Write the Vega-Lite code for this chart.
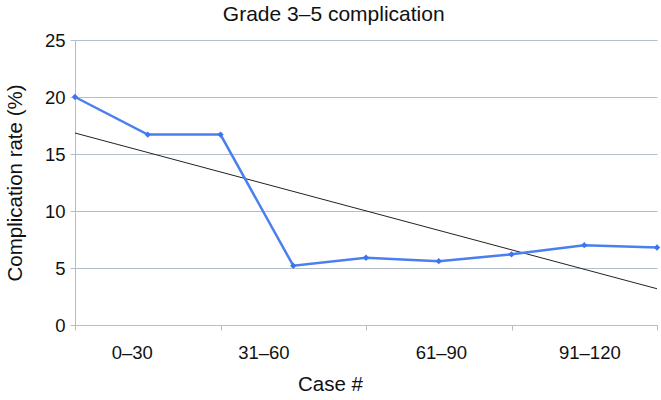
{
  "$schema": "https://vega.github.io/schema/vega-lite/v6.json",
  "width": 582,
  "height": 285,
  "autosize": {"type": "none"},
  "padding": {"left": 75, "top": 40, "right": 4, "bottom": 75},
  "background": "white",
  "title": {"text": "Grade 3–5 complication", "font": "Liberation Sans", "fontSize": 21, "fontWeight": "normal", "color": "#111", "offset": 9, "anchor": "middle", "frame": "bounds", "baseline": "bottom", "dy": 24},
  "config": {"view": {"stroke": null}, "font": "Liberation Sans", "title": {"fontSize": 21}},
  "datasets": {
    "rates": [
      {"idx": 0, "rate": 20.0},
      {"idx": 1, "rate": 16.7},
      {"idx": 2, "rate": 16.7},
      {"idx": 3, "rate": 5.2},
      {"idx": 4, "rate": 5.9},
      {"idx": 5, "rate": 5.6},
      {"idx": 6, "rate": 6.2},
      {"idx": 7, "rate": 7.0},
      {"idx": 8, "rate": 6.8}
    ],
    "trend": [
      {"idx": 0, "rate": 16.84},
      {"idx": 8, "rate": 3.18}
    ]
  },
  "layer": [
    {
      "data": {"name": "trend"},
      "mark": {"type": "line", "color": "#222", "strokeWidth": 1},
      "encoding": {
        "x": {"field": "idx", "type": "quantitative", "scale": {"domain": [0, 8], "nice": false, "zero": false},
          "axis": {
            "values": [0, 0.78, 2, 2.59, 4, 5.03, 6, 7.07, 8],
            "labelExpr": "datum.value == 0.78 ? '0–30' : datum.value == 2.59 ? '31–60' : datum.value == 5.03 ? '61–90' : datum.value == 7.07 ? '91–120' : ''",
            "tickColor": {"condition": {"test": "datum.value % 2 == 0", "value": "#b4bec8"}, "value": "transparent"},
            "tickSize": 5,
            "domainColor": "#b4bec8",
            "grid": false,
            "labelFont": "Liberation Sans", "labelFontSize": 18.5, "labelColor": "#111", "labelPadding": 13, "labelFlush": false, "labelOverlap": false,
            "title": "Case #", "titleFont": "Liberation Sans", "titleFontSize": 20.5, "titleFontWeight": "normal", "titleColor": "#111", "titlePadding": 13, "titleX": 255
          }
        },
        "y": {"field": "rate", "type": "quantitative", "scale": {"domain": [0, 25], "nice": false},
          "axis": {
            "values": [0, 5, 10, 15, 20, 25],
            "grid": true, "gridColor": "#b4bec8", "gridWidth": 1,
            "domainColor": "#b4bec8", "tickColor": "#b4bec8", "tickSize": 5,
            "labelFont": "Liberation Sans", "labelFontSize": 18.5, "labelColor": "#111", "labelPadding": 5,
            "title": "Complication rate (%)", "titleFont": "Liberation Sans", "titleFontSize": 20.5, "titleFontWeight": "normal", "titleColor": "#111", "titlePadding": 19
          }
        }
      }
    },
    {
      "data": {"name": "rates"},
      "mark": {"type": "line", "color": "#4a7ff0", "strokeWidth": 2.5, "point": {"shape": "diamond", "size": 40, "filled": true, "color": "#3d76ec"}},
      "encoding": {
        "x": {"field": "idx", "type": "quantitative"},
        "y": {"field": "rate", "type": "quantitative"}
      }
    }
  ]
}
